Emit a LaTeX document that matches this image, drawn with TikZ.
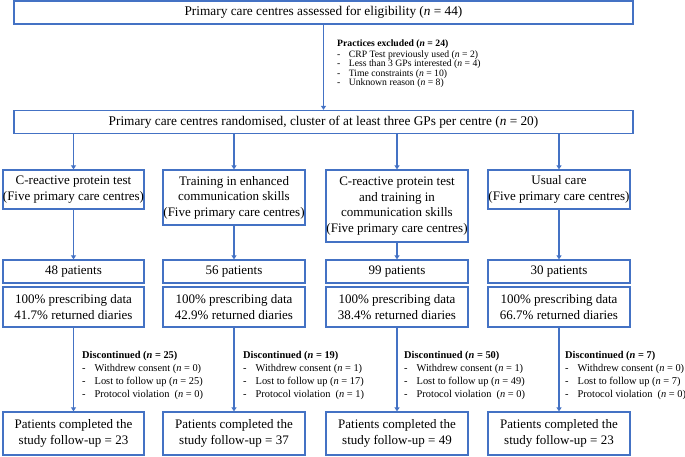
\documentclass[tikz,border=0pt]{standalone}
\usepackage{fontspec}
\setmainfont{Liberation Serif}
\usetikzlibrary{arrows.meta}
\definecolor{boxblue}{RGB}{68,114,196}
\begin{document}
\begin{tikzpicture}[x=1pt,y=-1pt,
  box/.style={draw=boxblue,line width=1.2pt,rectangle,inner sep=0pt,align=center,
     font=\fontsize{13}{15.5}\selectfont},
  topbox/.style={box,minimum width=619pt,minimum height=23pt,font=\fontsize{13.3}{15.5}\selectfont},
  arr/.style={draw=boxblue,line width=1.2pt,-{Triangle[width=5pt,length=4pt]}},
  smalllist/.style={anchor=north west,inner sep=0pt,align=left,font=\fontsize{9.7}{9.5}\selectfont},
  disclist/.style={anchor=north west,inner sep=0pt,align=left,font=\fontsize{10.4}{12.9}\selectfont}]
\useasboundingbox (0,0) rectangle (685,457);
\newcommand{\itm}[1]{\makebox[1.2em][l]{-}#1}
% top boxes
\node[topbox] (top) at (323.5,12.5) {Primary care centres assessed for eligibility (\textit{n} = 44)};
\node[topbox] (rand) at (323.5,122) {Primary care centres randomised, cluster of at least three GPs per centre (\textit{n} = 20)};
\draw[arr] (top.south) -- (rand.north);
\node[smalllist] (excl) at (337,40) {\textbf{Practices excluded (\textit{n} = 24)}\\[0.6pt]
\itm{CRP Test previously used (\textit{n} = 2)}\\
\itm{Less than 3 GPs interested (\textit{n} = 4)}\\
\itm{Time constraints (\textit{n} = 10)}\\
\itm{Unknown reason (\textit{n} = 8)}};
% column boxes
\node[box,minimum width=141pt,minimum height=39pt] (c1) at (73.5,189.5) {C-reactive protein test\\(Five primary care centres)};
\node[box,minimum width=142pt,minimum height=55pt] (c2) at (234,197.5) {Training in enhanced\\communication skills\\(Five primary care centres)};
\node[box,minimum width=142pt,minimum height=72pt] (c3) at (397,206) {C-reactive protein test\\and training in\\communication skills\\(Five primary care centres)};
\node[box,minimum width=142pt,minimum height=39pt] (c4) at (559,189.5) {Usual care\\(Five primary care centres)};
\foreach \c in {c1,c2,c3,c4} \draw[arr] (\c.north |- rand.south) -- (\c.north);
% patients
\node[box,minimum width=141pt,minimum height=23pt] (p1) at (73.5,271.5) {48 patients};
\node[box,minimum width=142pt,minimum height=23pt] (p2) at (234,271.5) {56 patients};
\node[box,minimum width=142pt,minimum height=23pt] (p3) at (397,271.5) {99 patients};
\node[box,minimum width=142pt,minimum height=23pt] (p4) at (559,271.5) {30 patients};
\foreach \i in {1,2,3,4} \draw[arr] (c\i.south) -- (p\i.north);
% data
\node[box,minimum width=141pt,minimum height=40pt] (d1) at (73.5,307) {100\% prescribing data\\41.7\% returned diaries};
\node[box,minimum width=142pt,minimum height=40pt] (d2) at (234,307) {100\% prescribing data\\42.9\% returned diaries};
\node[box,minimum width=142pt,minimum height=40pt] (d3) at (397,307) {100\% prescribing data\\38.4\% returned diaries};
\node[box,minimum width=142pt,minimum height=40pt] (d4) at (559,307) {100\% prescribing data\\66.7\% returned diaries};
% final
\node[box,minimum width=141pt,minimum height=43pt] (f1) at (73.5,433.5) {Patients completed the\\study follow-up = 23};
\node[box,minimum width=142pt,minimum height=43pt] (f2) at (234,433.5) {Patients completed the\\study follow-up = 37};
\node[box,minimum width=142pt,minimum height=43pt] (f3) at (397,433.5) {Patients completed the\\study follow-up = 49};
\node[box,minimum width=142pt,minimum height=43pt] (f4) at (559,433.5) {Patients completed the\\study follow-up = 23};
\foreach \i in {1,2,3,4} \draw[arr] (d\i.south) -- (f\i.north);
% discontinued
\node[disclist] (x1) at (82,351) {\textbf{Discontinued (\textit{n} = 25)}\\
\itm{Withdrew consent (\textit{n} = 0)}\\
\itm{Lost to follow up (\textit{n} = 25)}\\
\itm{Protocol violation\ \ (\textit{n} = 0)}};
\node[disclist] (x2) at (243,351) {\textbf{Discontinued (\textit{n} = 19)}\\
\itm{Withdrew consent (\textit{n} = 1)}\\
\itm{Lost to follow up (\textit{n} = 17)}\\
\itm{Protocol violation\ \ (\textit{n} = 1)}};
\node[disclist] (x3) at (404,351) {\textbf{Discontinued (\textit{n} = 50)}\\
\itm{Withdrew consent (\textit{n} = 1)}\\
\itm{Lost to follow up (\textit{n} = 49)}\\
\itm{Protocol violation\ \ (\textit{n} = 0)}};
\node[disclist] (x4) at (565,351) {\textbf{Discontinued (\textit{n} = 7)}\\
\itm{Withdrew consent (\textit{n} = 0)}\\
\itm{Lost to follow up (\textit{n} = 7)}\\
\itm{Protocol violation\ \ (\textit{n} = 0)}};
\end{tikzpicture}
\end{document}
